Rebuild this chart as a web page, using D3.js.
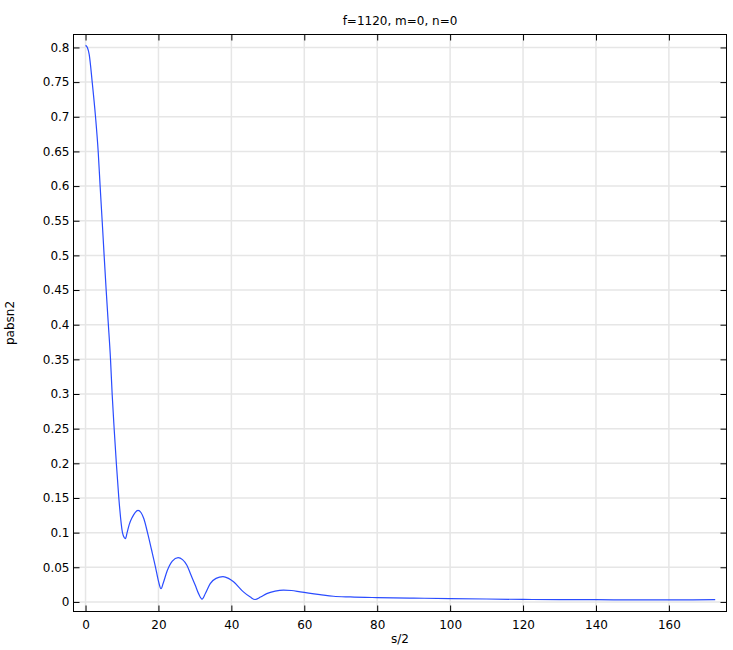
<!DOCTYPE html>
<html>
<head>
<meta charset="utf-8">
<script src="https://cdn.jsdelivr.net/npm/d3@7"></script>
<style>
body { margin: 0; background: #fff; }
svg text { font-family: "DejaVu Sans", sans-serif; fill: #000; }
</style>
</head>
<body>
<svg width="733" height="650"></svg>
<script>
// curve
var sVals = [0, 0.5, 1.0, 1.83, 2.74, 3.47, 4.0, 4.56, 5.1, 5.66, 6.2, 6.85, 7.3, 7.85, 8.45, 9.13, 10.13, 10.6, 10.95, 11.4, 12.0, 12.8, 13.6, 14.4, 15.2, 16, 17, 18.07, 19.2, 20.0, 20.7, 21.3, 22.4, 23.8, 25.4, 26.6, 27.8, 28.75, 30.1, 31.0, 31.95, 32.9, 34.2, 35.8, 37.7, 39.2, 40.6, 43.3, 45.2, 46.5, 48, 49.7, 52, 54.3, 56.5, 58.9, 64.3, 68, 72.6, 79.9, 90, 100, 110, 120, 130, 140, 150, 160, 166, 172.7];
var pVals = [0.803, 0.800, 0.79, 0.75, 0.70, 0.65, 0.60, 0.55, 0.50, 0.45, 0.405, 0.35, 0.30, 0.25, 0.20, 0.15, 0.10, 0.093, 0.0914, 0.1, 0.112, 0.122, 0.129, 0.132, 0.129, 0.120, 0.100, 0.076, 0.050, 0.030, 0.019, 0.027, 0.045, 0.059, 0.064, 0.061, 0.053, 0.041, 0.024, 0.012, 0.004, 0.0125, 0.0265, 0.034, 0.0365, 0.034, 0.029, 0.0145, 0.007, 0.0035, 0.007, 0.012, 0.0155, 0.0169, 0.0165, 0.0145, 0.0106, 0.0082, 0.0072, 0.0063, 0.0055, 0.0049, 0.0042, 0.0036, 0.0034, 0.0032, 0.003, 0.0029, 0.003, 0.0032];
var xTicks = [0, 20, 40, 60, 80, 100, 120, 140, 160];
var yTicks = [0, 0.05, 0.1, 0.15, 0.2, 0.25, 0.3, 0.35, 0.4, 0.45, 0.5, 0.55, 0.6, 0.65, 0.7, 0.75, 0.8];
var title = 'f=1120, m=0, n=0';
var xLabel = 's/2';
var yLabel = 'pabsn2';

var svg = d3.select('svg');
var pLeft = 73.5, pRight = 726.5, pTop = 34.5, pBottom = 611.5;

var x = d3.scaleLinear().domain([-3.3, 175.8]).range([pLeft, pRight]);
var y = d3.scaleLinear().domain([-0.0138, 0.8187]).range([pBottom, pTop]);

var fmt = function(d){ return String(+d.toFixed(2)); };

// grid
var grid = svg.append('g');
grid.selectAll('.gx').data(xTicks).enter().append('line')
    .attr('x1', function(d){ return x(d); })
    .attr('x2', function(d){ return x(d); })
    .attr('y1', pTop).attr('y2', pBottom)
    .style('stroke', '#e6e6e6').style('stroke-width', 1.5);
grid.selectAll('.gy').data(yTicks).enter().append('line')
    .attr('y1', function(d){ return y(d); })
    .attr('y2', function(d){ return y(d); })
    .attr('x1', pLeft).attr('x2', pRight)
    .style('stroke', '#e6e6e6').style('stroke-width', 1.5);

// curve
var pts = sVals.map(function(s, i){ return [s, pVals[i]]; });
svg.append('path')
    .datum(pts)
    .attr('fill', 'none')
    .attr('stroke', '#2a4cff')
    .attr('stroke-width', 1.2)
    .attr('d', d3.line()
        .x(function(d){ return x(d[0]); })
        .y(function(d){ return y(d[1]); })
        .curve(d3.curveMonotoneX));

// axes, ticks inside on all sides
function noDomain(g){ g.select('.domain').remove(); g.selectAll('line').attr('stroke', '#000'); }

svg.append('g').attr('transform', 'translate(0,' + pBottom + ')')
    .call(d3.axisBottom(x).tickValues(xTicks).tickSizeInner(-6).tickSizeOuter(0).tickPadding(9).tickFormat(fmt))
    .call(noDomain)
    .selectAll('text').style('font-size', '12px');
svg.append('g').attr('transform', 'translate(0,' + pTop + ')')
    .call(d3.axisTop(x).tickValues(xTicks).tickSizeInner(-6).tickSizeOuter(0).tickFormat(''))
    .call(noDomain);
svg.append('g').attr('transform', 'translate(' + pLeft + ',0)')
    .call(d3.axisLeft(y).tickValues(yTicks).tickSizeInner(-6).tickSizeOuter(0).tickPadding(4).tickFormat(fmt))
    .call(noDomain)
    .selectAll('text').style('font-size', '12px');
svg.append('g').attr('transform', 'translate(' + pRight + ',0)')
    .call(d3.axisRight(y).tickValues(yTicks).tickSizeInner(-6).tickSizeOuter(0).tickFormat(''))
    .call(noDomain);

svg.append('rect')
    .attr('x', pLeft).attr('y', pTop)
    .attr('width', pRight - pLeft).attr('height', pBottom - pTop)
    .attr('fill', 'none').attr('stroke', '#000').attr('stroke-width', 1);

svg.append('text').attr('x', (pLeft + pRight) / 2).attr('y', 25)
    .attr('text-anchor', 'middle').style('font-size', '12px').text(title);
svg.append('text').attr('x', (pLeft + pRight) / 2).attr('y', 643)
    .attr('text-anchor', 'middle').style('font-size', '12px').text(xLabel);
svg.append('text').attr('transform', 'translate(14,' + (pTop + pBottom) / 2 + ') rotate(-90)')
    .attr('text-anchor', 'middle').style('font-size', '12px').text(yLabel);
</script>
</body>
</html>
